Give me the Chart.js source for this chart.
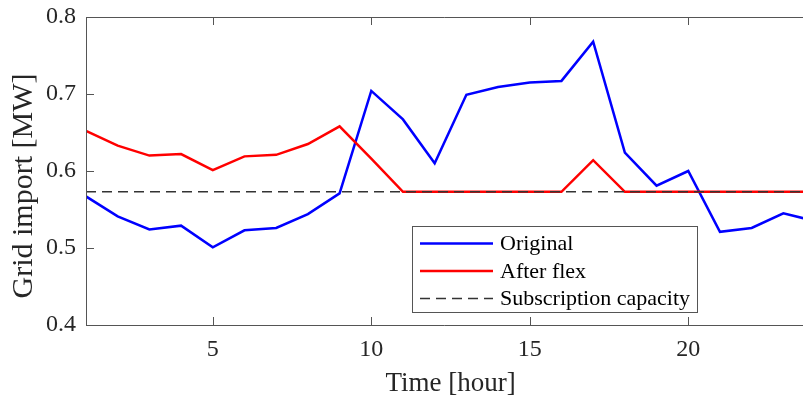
<!DOCTYPE html>
<html>
<head>
<meta charset="utf-8">
<script src="https://cdn.jsdelivr.net/npm/chart.js@4.4.0/dist/chart.umd.min.js"></script>
<style>
  html, body { margin: 0; padding: 0; background: #fff; }
  #wrap { width: 803px; height: 398px; }
</style>
</head>
<body>
<div id="wrap"><canvas id="gridChart"></canvas></div>
<script>
// hourly grid import [MW]
const hours = [1, 2, 3, 4, 5, 6, 7, 8, 9, 10, 11, 12, 13, 14, 15, 16, 17, 18, 19, 20, 21, 22, 23, 24];
const original = [0.567, 0.541, 0.524, 0.529, 0.501, 0.523, 0.526, 0.544, 0.571, 0.704, 0.667, 0.610,
                  0.699, 0.709, 0.715, 0.717, 0.768, 0.624, 0.581, 0.600, 0.521, 0.526, 0.545, 0.535];
const afterFlex = [0.652, 0.633, 0.620, 0.622, 0.601, 0.619, 0.621, 0.635, 0.658, 0.616, 0.573, 0.573,
                   0.573, 0.573, 0.573, 0.573, 0.614, 0.573, 0.573, 0.573, 0.573, 0.573, 0.573, 0.573];
const subscriptionCapacity = 0.573;
const xTicks = [5, 10, 15, 20];
const yTicks = [0.4, 0.5, 0.6, 0.7, 0.8];

const axisColor = '#262626';
const serif = "'Liberation Serif', 'Times New Roman', serif";

function toPoints(arr) {
    return arr.map((v, i) => ({ x: hours[i], y: v }));
}

// matlab-ish box: top line, inward ticks, legend box and axis titles
const matlabAxes = {
    id: 'matlabAxes',
    afterDatasetsDraw(chart) {
        const { ctx, chartArea: a, scales: { x, y } } = chart;
        ctx.save();
        ctx.strokeStyle = '#555';
        ctx.lineWidth = 1;
        ctx.beginPath();
        ctx.moveTo(a.left + 0.5, a.top + 0.5);
        ctx.lineTo(a.right, a.top + 0.5);
        ctx.moveTo(a.left + 0.5, a.top);
        ctx.lineTo(a.left + 0.5, a.bottom + 0.5);
        ctx.lineTo(a.right, a.bottom + 0.5);
        xTicks.forEach(t => {
            const px = Math.round(x.getPixelForValue(t)) + 0.5;
            ctx.moveTo(px, a.bottom);
            ctx.lineTo(px, a.bottom - 8);
            ctx.moveTo(px, a.top);
            ctx.lineTo(px, a.top + 8);
        });
        yTicks.forEach(t => {
            const py = Math.round(y.getPixelForValue(t)) + 0.5;
            ctx.moveTo(a.left, py);
            ctx.lineTo(a.left + 8, py);
        });
        ctx.stroke();

        // legend
        const lx = 412.5, ly = 226.5, lw = 285, lh = 86;
        ctx.fillStyle = '#fff';
        ctx.fillRect(lx, ly, lw, lh);
        ctx.strokeStyle = '#555';
        ctx.strokeRect(lx, ly, lw, lh);
        const rows = [243.5, 271, 298.5];
        const order = [2, 1, 0];
        ctx.font = '22px ' + serif;
        ctx.textBaseline = 'middle';
        ctx.textAlign = 'left';
        order.forEach((di, r) => {
            const ds = chart.data.datasets[di];
            ctx.save();
            ctx.strokeStyle = ds.borderColor;
            ctx.lineWidth = ds.borderWidth;
            ctx.setLineDash(ds.borderDash || []);
            ctx.beginPath();
            ctx.moveTo(420, rows[r]);
            ctx.lineTo(493, rows[r]);
            ctx.stroke();
            ctx.restore();
            ctx.fillStyle = '#000';
            ctx.fillText(ds.label, 500, rows[r] + 1);
        });

        // axis titles
        ctx.fillStyle = axisColor;
        ctx.font = '27px ' + serif;
        ctx.textAlign = 'center';
        ctx.textBaseline = 'alphabetic';
        ctx.fillText('Time [hour]', x.getPixelForValue(12.5), 391);
        ctx.font = '30px ' + serif;
        ctx.translate(32, 186);
        ctx.rotate(-Math.PI / 2);
        ctx.fillText('Grid import [MW]', 0, 0);
        ctx.restore();
    }
};

const ctxEl = document.getElementById('gridChart').getContext('2d');
const gridChart = new Chart(ctxEl, {
    type: 'line',
    data: {
        datasets: [
            {
                label: 'Subscription capacity',
                data: toPoints(hours.map(() => subscriptionCapacity)),
                borderColor: '#333333',
                borderWidth: 1.5,
                borderDash: [10, 6],
                pointRadius: 0,
                tension: 0
            },
            {
                label: 'After flex',
                data: toPoints(afterFlex),
                borderColor: '#ff0000',
                borderWidth: 2.5,
                pointRadius: 0,
                tension: 0
            },
            {
                label: 'Original',
                data: toPoints(original),
                borderColor: '#0000ff',
                borderWidth: 2.5,
                pointRadius: 0,
                tension: 0
            }
        ]
    },
    options: {
        responsive: true,
        maintainAspectRatio: false,
        animation: false,
        layout: { padding: { left: 0, right: 0, top: 17, bottom: 0 } },
        plugins: {
            legend: { display: false },
            tooltip: { enabled: false }
        },
        scales: {
            x: {
                type: 'linear',
                min: 1,
                max: 23.62,
                afterBuildTicks: (s) => { s.ticks = xTicks.map(v => ({ value: v })); },
                afterFit: (s) => { s.height = 73; },
                grid: { display: false, drawTicks: false },
                border: { display: false },
                ticks: {
                    color: axisColor,
                    font: { family: serif, size: 24 },
                    padding: 10,
                    maxRotation: 0
                }
            },
            y: {
                min: 0.4,
                max: 0.8,
                afterBuildTicks: (s) => { s.ticks = yTicks.map(v => ({ value: v })); },
                afterFit: (s) => { s.width = 86; },
                grid: { display: false, drawTicks: false },
                border: { display: false },
                ticks: {
                    color: axisColor,
                    font: { family: serif, size: 24, lineHeight: 0.5 },
                    padding: 10,
                    callback: (v) => v.toFixed(1)
                }
            }
        }
    },
    plugins: [matlabAxes]
});
</script>
</body>
</html>
